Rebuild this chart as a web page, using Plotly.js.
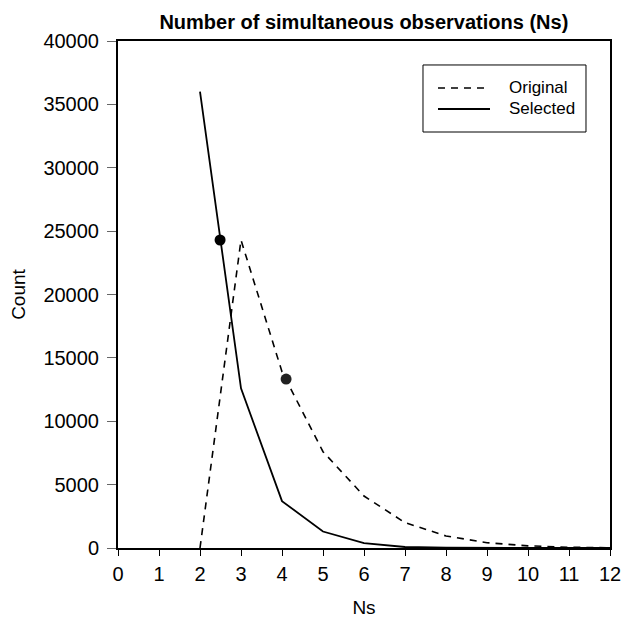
<!DOCTYPE html>
<html>
<head>
<meta charset="utf-8">
<script src="https://cdn.plot.ly/plotly-3.0.1.min.js"></script>
<style>html,body{margin:0;padding:0;background:#fff;}</style>
</head>
<body>
<div id="chart" style="width:622px;height:619px;"></div>
<script>
const originalNs = [2, 3, 4, 5, 6, 7, 8, 9, 10, 11, 12];
const originalCount = [0, 24300, 13900, 7600, 4100, 2000, 950, 420, 170, 60, 20];
const selectedNs = [2, 3, 4, 5, 6, 7, 8, 9, 10, 11, 12];
const selectedCount = [36000, 12600, 3700, 1300, 380, 80, 20, 5, 0, 0, 0];
const markerNs = [2.49, 4.1];
const markerCount = [24300, 13330];
const xTicks = [0,1,2,3,4,5,6,7,8,9,10,11,12];
const yTicks = [0,5000,10000,15000,20000,25000,30000,35000,40000];
const legendNames = ['Original', 'Selected'];

const fam = 'Liberation Sans, Arial, sans-serif';
const font = {family: fam, size: 19, color: '#000'};
const tickFont = {family: fam, size: 20, color: '#000'};

// custom legend (paper coordinates)
const legRows = [0.9073, 0.8659];
const legShapes = [
  {type: 'rect', xref: 'paper', yref: 'paper', x0: 0.6199, x1: 0.9512, y0: 0.8205, y1: 0.9527,
   line: {color: '#000', width: 1}, fillcolor: '#fff', layer: 'above'},
  {type: 'line', xref: 'paper', yref: 'paper', x0: 0.6504, x1: 0.7561, y0: legRows[0], y1: legRows[0],
   line: {color: '#000', width: 1.6, dash: '7px,6px'}, layer: 'above'},
  {type: 'line', xref: 'paper', yref: 'paper', x0: 0.6504, x1: 0.7561, y0: legRows[1], y1: legRows[1],
   line: {color: '#000', width: 1.8}, layer: 'above'}
];
const legAnn = legendNames.map((n, i) => ({
  xref: 'paper', yref: 'paper', x: 0.7907, y: legRows[i], xanchor: 'left', yanchor: 'middle',
  text: n, showarrow: false, font: {family: fam, size: 17, color: '#000'}
}));

Plotly.newPlot('chart', [
  {x: originalNs, y: originalCount, mode: 'lines', name: legendNames[0],
   line: {color: '#000', width: 1.6, dash: '7px,6px'}},
  {x: selectedNs, y: selectedCount, mode: 'lines', name: legendNames[1],
   line: {color: '#000', width: 1.8}},
  {x: markerNs, y: markerCount, mode: 'markers',
   marker: {color: ['#000', '#222'], size: 11}}
], {
  width: 622, height: 619,
  margin: {l: 118, r: 12, t: 41, b: 71},
  paper_bgcolor: '#fff', plot_bgcolor: '#fff',
  font: font,
  showlegend: false,
  shapes: legShapes,
  annotations: legAnn,
  title: {text: '<b>Number of simultaneous observations (Ns)</b>', font: {family: fam, size: 20, color: '#000'},
          x: 0.585, xanchor: 'center', y: 0.964, yanchor: 'middle'},
  xaxis: {range: [0, 12], tickvals: xTicks, ticktext: xTicks.map(String), tickfont: tickFont,
          ticks: 'outside', ticklen: 6, tickwidth: 1, tickcolor: '#000',
          ticklabelstandoff: 1,
          showline: true, linecolor: '#000', linewidth: 2, mirror: true,
          showgrid: false, zeroline: false,
          title: {text: 'Ns', font: font, standoff: 17}},
  yaxis: {range: [0, 40000], tickvals: yTicks, ticktext: yTicks.map(String), tickfont: tickFont,
          ticks: 'outside', ticklen: 9, tickwidth: 1, tickcolor: '#666',
          ticklabelstandoff: 4,
          showline: true, linecolor: '#000', linewidth: 2, mirror: true,
          showgrid: false, zeroline: false,
          title: {text: 'Count', font: font, standoff: 13}}
}, {displayModeBar: false});
</script>
</body>
</html>
